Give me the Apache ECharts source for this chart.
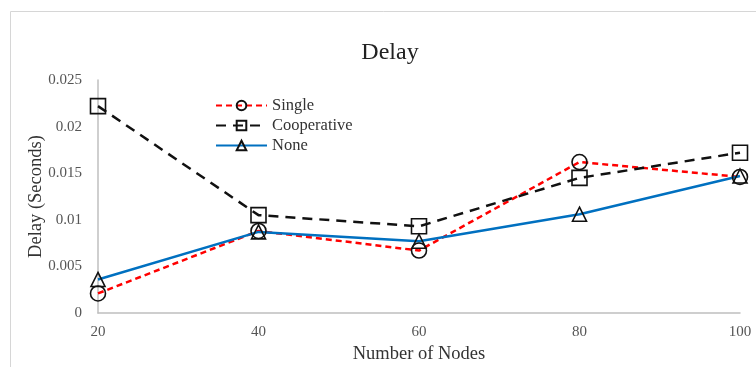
<!DOCTYPE html>
<html><head><meta charset="utf-8">
<script src="https://cdn.jsdelivr.net/npm/echarts@6/dist/echarts.min.js"></script>
<style>html,body{margin:0;padding:0;background:#fff}#c{width:756px;height:367px}</style>
</head><body><div id="c"></div>
<script>
var categories = ['20', '40', '60', '80', '100'];
var single = [0.0021, 0.0088, 0.0067, 0.0162, 0.0146];
var cooperative = [0.0222, 0.0105, 0.0093, 0.0145, 0.0172];
var none = [0.0036, 0.0087, 0.0077, 0.0106, 0.0147];
var yTicks = [0, 0.005, 0.01, 0.015, 0.02, 0.025];

var serif = '"Liberation Serif", "DejaVu Serif", serif';
var chart = echarts.init(document.getElementById('c'));
function mk(name, data, color, type, width, symbol, size) {
  return {
    name: name, type: 'line', data: data,
    symbol: symbol, symbolSize: size,
    lineStyle: {color: color, type: type, width: width},
    itemStyle: {color: 'rgba(255,255,255,0)', borderColor: '#111', borderWidth: 1.6},
    emphasis: {disabled: true},
    z: 2
  };
}
chart.setOption({
  animation: false,
  title: {text: 'Delay', left: 385, top: 36, textAlign: 'center',
    textStyle: {fontFamily: serif, fontSize: 24, fontWeight: 'normal', color: '#222'}},
  graphic: [{type: 'rect', shape: {x: 10.5, y: 11.5, width: 800, height: 400},
    style: {fill: 'none', stroke: '#d6d6d6', lineWidth: 1}, silent: true}],
  legend: {
    orient: 'vertical', left: 210, top: 92, itemGap: 3, itemWidth: 51, itemHeight: 12,
    textStyle: {fontFamily: serif, fontSize: 16.5, color: '#333'},
    data: ['Single', 'Cooperative', 'None']
  },
  grid: {left: 98, right: 16, top: 80, bottom: 54, containLabel: false, outerBoundsMode: 'none'},
  xAxis: {
    type: 'category', data: categories, boundaryGap: false,
    name: 'Number of Nodes', nameLocation: 'middle', nameGap: 32, nameMoveOverlap: false,
    nameTextStyle: {fontFamily: serif, fontSize: 18.5, color: '#333'},
    axisLine: {lineStyle: {color: '#bfbfbf', width: 1.5}},
    axisTick: {show: false},
    axisLabel: {fontFamily: serif, fontSize: 15, color: '#555', margin: 12}
  },
  yAxis: {
    type: 'value', min: 0, max: 0.025, interval: 0.005,
    name: 'Delay (Seconds)', nameLocation: 'middle', nameGap: 52, nameMoveOverlap: false,
    nameTextStyle: {fontFamily: serif, fontSize: 18.5, color: '#333'},
    axisLine: {show: true, lineStyle: {color: '#bfbfbf', width: 1.5}},
    axisTick: {show: false},
    splitLine: {show: false},
    axisLabel: {fontFamily: serif, fontSize: 15, color: '#555', margin: 16,
      formatter: function (v) { var r = yTicks.find(function (t) { return Math.abs(t - v) < 1e-9; }); return String(r !== undefined ? r : v); }}
  },
  series: [
    mk('Single', single, '#ff0000', [6, 4], 2.5, 'circle', 15),
    mk('Cooperative', cooperative, '#111111', [10, 7], 2.5, 'rect', 15),
    mk('None', none, '#0070c0', 'solid', 2.5, 'triangle', 14)
  ]
});
</script></body></html>
